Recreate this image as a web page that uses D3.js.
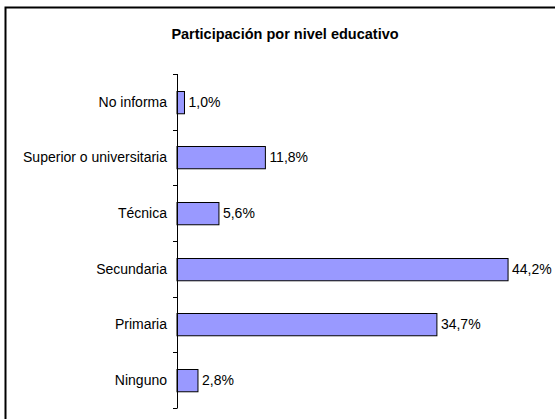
<!DOCTYPE html>
<html>
<head>
<meta charset="utf-8">
<script src="https://cdn.jsdelivr.net/npm/d3@7"></script>
<style>
    body { margin: 0; background: #fff; }
    svg { display: block; font-family: 'Liberation Sans', Arial, sans-serif; }
</style>
</head>
<body>
<svg id="chart" width="555" height="419"></svg>
<script>
// categories, top to bottom
const categories = [
    'No informa',
    'Superior o universitaria',
    'Técnica',
    'Secundaria',
    'Primaria',
    'Ninguno'
];
const values = [1.0, 11.8, 5.6, 44.2, 34.7, 2.8];
const title = 'Participación por nivel educativo';

const svg = d3.select('#chart');
const width = 555;
const height = 419;

// frame (runs off the right and bottom edges)
svg.append('rect')
    .attr('x', 5.5)
    .attr('y', 7.5)
    .attr('width', 600)
    .attr('height', 500)
    .attr('fill', '#fff')
    .attr('stroke', '#000')
    .attr('stroke-width', 2);

svg.append('text')
    .attr('x', 285)
    .attr('y', 39)
    .attr('text-anchor', 'middle')
    .style('font-size', '14.5px')
    .style('font-weight', 'bold')
    .text(title);

const margin = { top: 74, left: 177, bottom: 11 };

const x = d3
    .scaleLinear()
    .domain([0, 50])
    .range([margin.left, margin.left + 374.5]);

const y = d3
    .scaleBand()
    .domain(categories)
    .range([margin.top, height - margin.bottom])
    .paddingInner(0.6)
    .paddingOuter(0.3);

// bars
svg.append('g')
    .selectAll('rect')
    .data(values)
    .join('rect')
    .attr('x', x(0))
    .attr('y', (d, i) => Math.round(y(categories[i])) + 0.5)
    .attr('width', (d) => x(d) - x(0))
    .attr('height', y.bandwidth())
    .attr('fill', '#9999ff')
    .attr('stroke', '#000')
    .attr('stroke-width', 1);

// value labels
svg.append('g')
    .selectAll('text')
    .data(values)
    .join('text')
    .attr('x', (d) => x(d) + 4)
    .attr('y', (d, i) => y(categories[i]) + y.bandwidth() / 2)
    .attr('dy', '0.35em')
    .style('font-size', '14px')
    .text((d) => d.toFixed(1).replace('.', ',') + '%');

// category axis: ticks between the categories
const step = y.step();
const tickYs = d3.range(categories.length + 1).map((i) => margin.top + i * step);

const axis = svg.append('g');
axis.append('line')
    .attr('x1', x(0) + 0.5)
    .attr('x2', x(0) + 0.5)
    .attr('y1', tickYs[0])
    .attr('y2', tickYs[tickYs.length - 1])
    .attr('stroke', '#000');

axis.selectAll('.tick')
    .data(tickYs)
    .join('line')
    .attr('class', 'tick')
    .attr('x1', x(0) - 4)
    .attr('x2', x(0) + 0.5)
    .attr('y1', (d) => Math.round(d) + 0.5)
    .attr('y2', (d) => Math.round(d) + 0.5)
    .attr('stroke', '#000');

axis.selectAll('.cat')
    .data(categories)
    .join('text')
    .attr('class', 'cat')
    .attr('x', x(0) - 10)
    .attr('y', (d) => y(d) + y.bandwidth() / 2)
    .attr('dy', '0.35em')
    .attr('text-anchor', 'end')
    .style('font-size', '14px')
    .text((d) => d);
</script>
</body>
</html>
